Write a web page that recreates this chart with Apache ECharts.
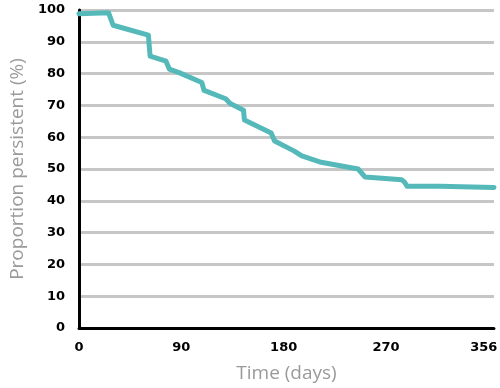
<!DOCTYPE html>
<html>
<head>
<meta charset="utf-8">
<script src="https://cdn.jsdelivr.net/npm/echarts@6/dist/echarts.min.js"></script>
<style>html,body{margin:0;padding:0;background:#fff}#c{width:500px;height:388px}</style>
</head>
<body>
<div id="c"></div>
<script>
// Data (days, percent persistent)
const days    = [0, 26, 30, 61, 62.5, 76.5, 79.5, 88, 108, 110, 129, 133, 144.7, 145.5, 169, 172, 189, 196, 213, 245.5, 251.5, 284, 286.3, 288.5, 318, 365];
const percent = [98.8, 99.1, 95.2, 92.1, 85.5, 83.9, 81.4, 80.3, 77.2, 74.7, 72.1, 70.6, 68.5, 65.4, 61.3, 58.8, 55.7, 54.1, 52.1, 50.0, 47.5, 46.6, 45.9, 44.6, 44.6, 44.2];
const xTicks = [0, 90, 180, 270, 356];
const xLabelText = ['0', '90', '180', '270', '356'];
const xRange = [0, 365];
const yTitle = 'Proportion persistent (%)';
const xTitle = 'Time (days)';

const chart = echarts.init(document.getElementById('c'));
chart.setOption({
  animation: false,
  grid: { left: 67, right: 5, top: 10, bottom: 54, containLabel: false },
  xAxis: {
    type: 'value', min: xRange[0], max: xRange[1],
    name: xTitle, nameLocation: 'middle', nameGap: 36,
    nameTextStyle: { color: '#9a9a9a', fontSize: 19, fontFamily: 'Open Sans' },
    axisLine: { show: true, lineStyle: { color: '#000', width: 3 } },
    axisTick: { show: false },
    splitLine: { show: false },
    axisLabel: {
      customValues: xTicks,
      formatter: v => xLabelText[xTicks.indexOf(v)] ?? String(v),
      color: '#000', fontSize: 13, fontWeight: 'bold', fontFamily: 'DejaVu Sans', margin: 13
    }
  },
  yAxis: {
    type: 'value', min: 0, max: 100, interval: 10,
    name: yTitle, nameLocation: 'middle', nameGap: 46,
    nameTextStyle: { color: '#9a9a9a', fontSize: 19, fontFamily: 'Open Sans' },
    axisLine: { show: true, lineStyle: { color: '#000', width: 3 } },
    axisTick: { show: false },
    splitLine: { show: true, lineStyle: { color: '#c6c6c6', width: 3 } },
    axisLabel: { color: '#000', fontSize: 13, fontWeight: 'bold', fontFamily: 'DejaVu Sans', margin: 14 }
  },
  series: [{
    type: 'line',
    data: days.map((d, i) => [d, percent[i]]),
    showSymbol: false,
    lineStyle: { color: '#55b9ba', width: 5, join: 'round', cap: 'round' },
    z: 3
  }]
});
</script>
</body>
</html>
